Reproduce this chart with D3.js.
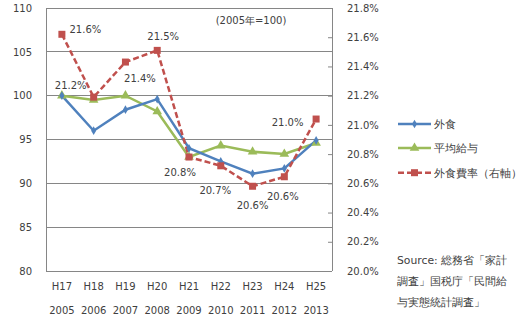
<!DOCTYPE html>
<html><head><meta charset="utf-8">
<script src="https://cdn.jsdelivr.net/npm/d3@7"></script>
<style>
body{margin:0;background:#fff;}
text{font-family:"DejaVu Sans",Verdana,sans-serif;fill:#404040;}
</style></head>
<body><svg id="c" width="526" height="324"></svg>
<script>
const categoriesH = ["H17","H18","H19","H20","H21","H22","H23","H24","H25"];
const categoriesY = ["2005","2006","2007","2008","2009","2010","2011","2012","2013"];
const gaishoku = [100, 96.0, 98.4, 99.6, 94.0, 92.5, 91.1, 91.7, 94.9];
const kyuyo = [100, 99.5, 100, 98.2, 93.0, 94.3, 93.6, 93.35, 94.6];
const hiritsu = [21.62, 21.19, 21.43, 21.51, 20.78, 20.72, 20.58, 20.645, 21.04];
const hiritsuLabels = ["21.6%","21.2%","21.4%","21.5%","20.8%","20.7%","20.6%","20.6%","21.0%"];
const leftTicks = [80,85,90,95,100,105,110];
const rightTicks = [20.0,20.2,20.4,20.6,20.8,21.0,21.2,21.4,21.6,21.8];
const seriesNames = ["外食","平均給与","外食費率（右軸）"];
const sourceLines = ["Source: 総務省「家計","調査」国税庁「民間給","与実態統計調査」"];

// label placement offsets (style)
const labelOffsets = [[23.5,-5],[-23,-12],[14.5,16],[6,-14],[-9,15],[-5.5,24],[0,19],[-1.5,19],[-28.5,3]];

const svg = d3.select("#c");
const L=46, R=332, T=8, B=271;
const x = d3.scaleBand().domain(categoriesH).range([L,R]);
const yL = d3.scaleLinear().domain([80,110]).range([B,T]);
const yR = d3.scaleLinear().domain([20.0,21.8]).range([B,T]);
const cx = (i)=> x(categoriesH[i]) + x.bandwidth()/2;

const colBlue="#4F81BD", colGreen="#9BBB59", colRed="#C0504D";

// gridlines
svg.append("g").selectAll("line").data(leftTicks).join("line")
  .attr("x1",L).attr("x2",R).attr("y1",d=>yL(d)).attr("y2",d=>yL(d))
  .attr("stroke","#868686").attr("stroke-width",1).attr("shape-rendering","crispEdges");
// axis lines
svg.append("line").attr("x1",L).attr("x2",L).attr("y1",T).attr("y2",B).attr("stroke","#868686").attr("shape-rendering","crispEdges");
svg.append("line").attr("x1",R).attr("x2",R).attr("y1",T).attr("y2",B).attr("stroke","#868686").attr("shape-rendering","crispEdges");

// left axis labels
const axL = d3.axisLeft(yL).tickValues(leftTicks).tickSize(0).tickPadding(14);
const gL = svg.append("g").attr("transform",`translate(${L},0)`).call(axL);
gL.select(".domain").remove();
gL.selectAll("text").attr("font-size",10).style("font-family","DejaVu Sans").attr("fill","#404040");

// right axis
const axR = d3.axisRight(yR).tickValues(rightTicks).tickSize(-4).tickPadding(15).tickFormat(d=>d.toFixed(1)+"%");
const gR = svg.append("g").attr("transform",`translate(${R},0)`).call(axR);
gR.select(".domain").remove();
gR.selectAll("line").attr("stroke","#868686");
gR.selectAll("text").attr("font-size",10).style("font-family","DejaVu Sans").attr("fill","#404040");

// x labels
svg.append("g").selectAll("text").data(categoriesH).join("text")
  .attr("x",(d,i)=>cx(i)).attr("y",290).attr("text-anchor","middle").attr("font-size",10).text(d=>d);
svg.append("g").selectAll("text").data(categoriesY).join("text")
  .attr("x",(d,i)=>cx(i)).attr("y",314).attr("text-anchor","middle").attr("font-size",10).text(d=>d);

// lines
const lineL = d3.line().x((d,i)=>cx(i)).y(d=>yL(d));
const lineR = d3.line().x((d,i)=>cx(i)).y(d=>yR(d));
svg.append("path").attr("d",lineL(kyuyo)).attr("fill","none").attr("stroke",colGreen).attr("stroke-width",2.5);
svg.append("path").attr("d",lineL(gaishoku)).attr("fill","none").attr("stroke",colBlue).attr("stroke-width",2.5);
svg.append("path").attr("d",lineR(hiritsu)).attr("fill","none").attr("stroke",colRed).attr("stroke-width",2.5).attr("stroke-dasharray","6,3");

// markers
const tri = d3.symbol().type(d3.symbolTriangle).size(40);
const dia = d3.symbol().type(d3.symbolDiamond).size(22);
svg.append("g").selectAll("path").data(kyuyo).join("path")
  .attr("d",tri).attr("transform",(d,i)=>`translate(${cx(i)},${yL(d)})`).attr("fill",colGreen);
svg.append("g").selectAll("path").data(gaishoku).join("path")
  .attr("d",dia).attr("transform",(d,i)=>`translate(${cx(i)},${yL(d)})`).attr("fill",colBlue);
svg.append("g").selectAll("rect").data(hiritsu).join("rect")
  .attr("x",(d,i)=>cx(i)-3.5).attr("y",d=>yR(d)-3.5).attr("width",7).attr("height",7).attr("fill",colRed);

// data labels
svg.append("g").selectAll("text").data(hiritsu).join("text")
  .attr("x",(d,i)=>cx(i)+labelOffsets[i][0]).attr("y",(d,i)=>yR(d)+labelOffsets[i][1]+4)
  .attr("text-anchor","middle").attr("font-size",10).text((d,i)=>hiritsuLabels[i]);

// note
svg.append("text").attr("x",251).attr("y",24).attr("text-anchor","middle").attr("font-size",10).text("(2005年=100)");

// legend
const legY=[124,148,172.7];
const legCol=[colBlue,colGreen,colRed];
seriesNames.forEach((n,i)=>{
  const g=svg.append("g");
  g.append("line").attr("x1",398).attr("x2",431).attr("y1",legY[i]).attr("y2",legY[i])
    .attr("stroke",legCol[i]).attr("stroke-width",2.5).attr("stroke-dasharray",i==2?"6,3":null);
  if(i==0) g.append("path").attr("d",dia).attr("transform",`translate(414.5,${legY[i]})`).attr("fill",colBlue);
  if(i==1) g.append("path").attr("d",tri).attr("transform",`translate(414.5,${legY[i]})`).attr("fill",colGreen);
  if(i==2) g.append("rect").attr("x",411).attr("y",legY[i]-3.5).attr("width",7).attr("height",7).attr("fill",colRed);
  g.append("text").attr("x",434).attr("y",legY[i]+4).attr("font-size",11).text(n);
});

// source
svg.append("g").selectAll("text").data(sourceLines).join("text")
  .attr("x",397).attr("y",(d,i)=>264+i*20.8).attr("font-size",10.8).text(d=>d);
</script></body></html>
